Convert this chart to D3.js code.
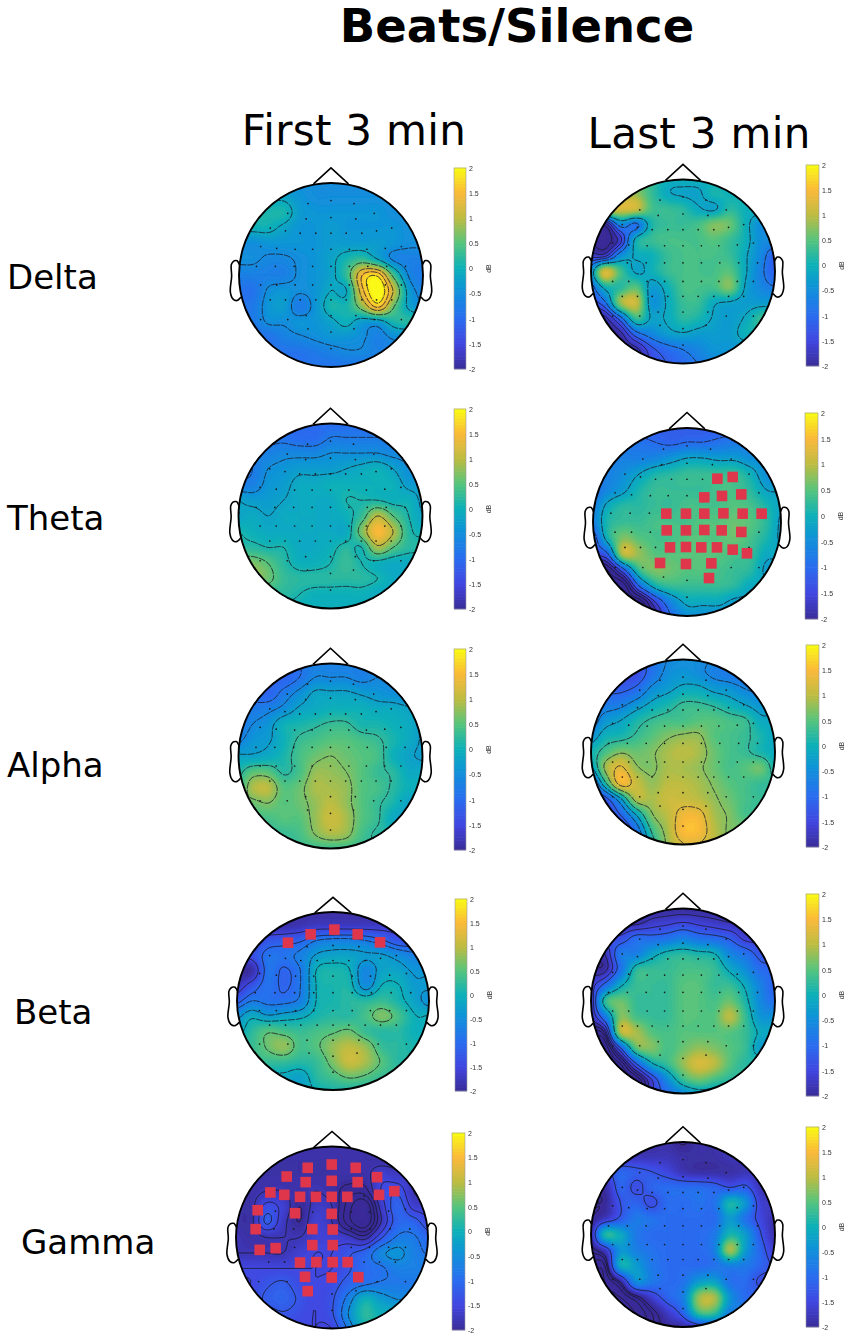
<!DOCTYPE html>
<html>
<head>
<meta charset="utf-8">
<script src="https://cdn.jsdelivr.net/npm/d3@7"></script>
<style>
html, body { margin: 0; padding: 0; background: #fff; }
svg { display: block; }
.tick text { font-family: "Liberation Sans", sans-serif; font-size: 7px; fill: #333; }
</style>
</head>
<body>
<svg id="chart" width="850" height="1339"></svg>
<script>
// values in tenths of a dB on a 13 x 13 grid over the head
var deltaFirst = [
  [-5,-5,-5,-5,-5,-5,-5,-5,-5,-5,-5,-5,-5],
  [-2,-2,-2,-2,-4,-5,-5,-5,-5,-5,-5,-5,-5],
  [1,1,1,1,-3,-4,-4,-4,-4,-4,-5,-5,-5],
  [0,0,0,-2,-4,-4,-3,-4,-4,-4,-4,-5,-5],
  [-5,-5,-4,-4,-4,-4,-3,-3,-3,-3,-4,-5,-5],
  [-5,-5,-6,-6,-5,-4,-2,1,3,-1,-6,-7,-7],
  [-7,-7,-7,-7,-5,-4,-2,3,15,17,4,-6,-8],
  [-9,-9,-5,-4,-5,-4,-1,-1,14,21,11,-3,-7],
  [-9,-8,-4,-3,-8,-4,1,1,8,16,6,-2,-5],
  [-8,-8,-5,-5,-4,-4,-2,0,-3,-3,1,2,2],
  [-9,-9,-9,-7,-6,-5,-4,-4,-5,-7,-5,-5,-5],
  [-9,-9,-9,-9,-9,-8,-7,-6,-6,-7,-7,-7,-7],
  [-9,-9,-9,-9,-9,-9,-9,-9,-9,-9,-9,-9,-9]
];
var deltaLast = [
  [5,5,5,5,3,0,0,0,-1,-2,-2,-2,-2],
  [9,9,9,8,3,-1,-2,-2,1,0,0,0,0],
  [12,12,12,11,4,3,2,-1,-2,2,0,0,0],
  [-20,-20,-6,-9,1,3,3,4,7,6,0,-5,-5],
  [-21,-23,-16,0,3,4,4,4,5,3,0,-5,-5],
  [-16,-16,-5,-1,0,3,4,4,4,3,-1,-6,-12],
  [-6,12,4,-2,0,3,4,4,4,5,-1,-7,-12],
  [-11,0,2,5,-3,0,4,4,4,7,-2,-6,-8],
  [-14,-9,8,11,-4,-1,3,3,-1,-2,-3,-3,-3],
  [-19,-19,-10,3,-2,-1,2,1,-2,-3,-1,3,3],
  [-20,-20,-19,-10,-6,-3,-2,-3,-3,-3,0,0,0],
  [-20,-20,-20,-19,-13,-10,-8,-6,-4,-4,-4,-4,-4],
  [-20,-20,-20,-19,-14,-12,-10,-8,-6,-5,-5,-5,-5]
];
var thetaFirst = [
  [-10,-10,-10,-10,-10,-10,-10,-10,-10,-10,-10,-10,-10],
  [-9,-9,-9,-9,-10,-10,-8,-8,-8,-8,-8,-8,-8],
  [-7,-7,-7,-6,-6,-6,-5,-5,-5,-5,-6,-6,-6],
  [-8,-8,-5,-4,-3,-3,-3,-2,-1,0,-2,-5,-5],
  [-7,-7,-4,-3,-1,-1,0,0,0,0,0,-3,-3],
  [-2,-3,-3,-2,-1,-1,-1,1,1,1,0,0,-3],
  [-2,-1,-2,-1,-1,-1,-1,0,3,10,5,1,-2],
  [1,0,-1,-1,-1,-1,-1,-1,7,15,10,2,0],
  [2,2,1,1,-1,-1,0,2,1,9,5,2,2],
  [7,7,5,2,0,0,1,3,1,0,-1,-1,-1],
  [8,8,6,3,2,2,2,2,2,1,-1,-1,-1],
  [2,2,2,2,1,0,0,0,0,-1,-1,-1,-1],
  [0,0,0,0,0,0,0,0,0,0,0,0,0]
];
var thetaLast = [
  [-12,-12,-12,-12,-12,-12,-12,-12,-12,-12,-12,-12,-12],
  [-9,-9,-9,-9,-10,-11,-10,-10,-9,-8,-8,-8,-8],
  [-7,-7,-7,-7,-6,-4,-2,-2,-3,-3,-5,-5,-5],
  [-7,-7,-5,-2,1,2,3,3,3,3,0,-5,-5],
  [-10,-6,-3,1,3,3,3,3,4,4,2,-2,-2],
  [-8,-1,2,2,3,3,4,4,4,5,4,1,-2],
  [-8,1,3,3,4,4,4,5,5,6,5,2,-3],
  [-14,0,7,5,4,4,5,5,5,6,4,1,-3],
  [-14,-11,10,8,5,5,5,5,5,4,3,-1,-1],
  [-24,-24,-12,3,7,6,5,5,4,3,2,-3,-3],
  [-26,-26,-26,-10,0,3,3,3,3,2,-1,-1,-1],
  [-26,-26,-26,-26,-15,-6,-1,-1,-1,-3,-3,-3,-3],
  [-26,-26,-26,-26,-20,-10,-5,-5,-5,-5,-5,-5,-5]
];
var alphaFirst = [
  [-9,-9,-9,-9,-9,-7,-7,-7,-7,-7,-7,-7,-7],
  [-10,-10,-10,-11,-9,-6,-6,-6,-7,-6,-6,-6,-6],
  [-10,-10,-11,-8,-5,-2,-2,-2,-3,-4,-5,-6,-6],
  [-8,-8,-7,-5,-2,-1,0,0,0,-1,-1,-2,-2],
  [-9,-6,-4,0,1,2,3,3,1,1,0,-1,-3],
  [-7,-4,-3,0,3,4,5,5,4,3,1,-1,-3],
  [-2,-2,-1,1,4,6,7,6,5,4,0,-2,-3],
  [1,5,5,2,4,8,8,7,5,3,2,-1,-1],
  [2,9,10,5,6,9,9,8,5,4,2,0,0],
  [6,6,7,5,6,8,10,8,5,3,1,-2,-2],
  [4,4,4,5,5,8,11,9,5,3,-1,-2,-2],
  [3,3,3,3,4,7,9,8,4,2,2,2,2],
  [3,3,3,3,3,3,3,3,3,3,3,3,3]
];
var alphaLast = [
  [-12,-12,-12,-12,-9,-6,-5,-5,-6,-6,-6,-6,-6],
  [-14,-14,-14,-14,-9,-5,-4,-5,-7,-8,-9,-9,-9],
  [-12,-12,-12,-10,-5,-3,-1,-1,-3,-4,-6,-7,-7],
  [-8,-8,-7,-4,-1,1,3,3,2,0,-2,-4,-4],
  [-9,-4,-2,1,3,4,4,5,5,4,3,-1,-1],
  [-5,0,1,3,5,7,8,8,5,4,3,1,-2],
  [0,4,7,6,7,9,10,9,6,4,3,1,-1],
  [-4,8,13,8,7,9,9,8,6,4,5,6,0],
  [-14,1,14,11,8,10,10,9,7,5,4,3,3],
  [-16,-13,-3,9,9,11,11,10,8,6,4,3,3],
  [-16,-16,-11,-2,7,10,14,14,9,7,4,4,4],
  [-16,-16,-16,-9,3,9,15,15,10,7,7,7,7],
  [-16,-16,-16,-12,0,8,12,12,10,7,7,7,7]
];
var betaFirst = [
  [-19,-19,-19,-19,-19,-19,-19,-19,-19,-19,-19,-19,-19],
  [-19,-19,-19,-19,-18,-17,-17,-17,-17,-17,-17,-17,-17],
  [-17,-17,-13,-12,-11,-8,-7,-7,-8,-10,-13,-13,-13],
  [-14,-14,-9,-9,-7,-3,-2,-2,-3,-3,-5,-7,-7],
  [-19,-19,-9,-11,-8,0,1,0,-6,-2,-2,-4,-4],
  [-18,-13,-9,-11,-8,0,1,1,-5,0,0,-3,-3],
  [-12,-8,-9,-9,-7,0,1,2,2,3,1,-2,-5],
  [-5,-1,-3,-2,-1,1,2,2,4,7,4,0,0],
  [-2,2,5,4,3,4,5,6,3,2,2,0,0],
  [3,3,6,8,4,5,8,10,8,3,2,1,1],
  [3,3,3,3,2,3,7,11,9,5,2,2,2],
  [-1,-1,-1,-1,-2,2,4,6,5,3,3,3,3],
  [-2,-2,-2,-2,-2,0,1,1,1,1,1,1,1]
];
var betaLast = [
  [-20,-20,-20,-20,-20,-20,-20,-20,-20,-20,-20,-20,-20],
  [-19,-19,-19,-19,-17,-16,-15,-16,-17,-18,-18,-18,-18],
  [-14,-14,-14,-10,-10,-9,-7,-9,-10,-12,-16,-16,-16],
  [-18,-18,-8,-7,-2,1,2,1,0,-6,-9,-13,-13],
  [-19,-19,-9,2,3,3,4,4,3,-1,-5,-10,-10],
  [-17,-10,-1,3,3,3,5,5,3,3,-1,-7,-12],
  [-20,2,6,3,3,3,5,5,4,6,1,-6,-10],
  [-19,-8,7,4,3,3,5,5,5,10,3,-4,-4],
  [-22,-20,9,9,5,4,5,5,5,5,3,-1,-1],
  [-26,-26,-12,5,7,4,6,8,7,5,3,-3,-3],
  [-26,-26,-24,-12,-1,3,8,12,10,5,2,2,2],
  [-26,-26,-26,-24,-15,-5,3,6,4,2,2,2,2],
  [-26,-26,-26,-24,-15,-10,-6,-3,-3,-3,-3,-3,-3]
];
var gammaFirst = [
  [-19,-19,-19,-19,-19,-19,-19,-19,-19,-19,-19,-19,-19],
  [-19,-19,-19,-19,-19,-19,-19,-19,-19,-19,-19,-19,-19],
  [-19,-19,-19,-19,-19,-19,-19,-19,-19,-16,-17,-17,-17],
  [-19,-19,-18,-18,-19,-18,-19,-21,-21,-15,-13,-18,-18],
  [-19,-19,-14,-16,-20,-17,-18,-23,-26,-17,-11,-16,-16],
  [-19,-19,-12,-17,-20,-16,-18,-23,-26,-18,-11,-11,-15],
  [-18,-19,-18,-18,-18,-16,-16,-17,-19,-13,-8,-8,-11],
  [-18,-18,-18,-18,-16,-15,-15,-13,-11,-6,-4,-7,-9],
  [-15,-15,-15,-15,-15,-15,-15,-13,-10,-9,-7,-7,-7],
  [-15,-15,-13,-12,-14,-15,-14,-11,-9,-8,-8,-8,-8],
  [-14,-14,-12,-11,-13,-15,-13,-7,0,-3,-5,-5,-5],
  [-14,-14,-14,-13,-14,-15,-13,-5,2,0,0,0,0],
  [-15,-15,-15,-15,-15,-15,-15,-8,0,0,0,0,0]
];
var gammaLast = [
  [-19,-19,-19,-19,-19,-19,-21,-19,-19,-19,-19,-19,-19],
  [-18,-18,-18,-18,-18,-18,-19,-19,-19,-18,-18,-18,-18],
  [-15,-15,-11,-12,-13,-15,-18,-19,-19,-19,-18,-18,-18],
  [-19,-19,-11,-14,-11,-10,-10,-10,-11,-13,-12,-18,-18],
  [-20,-20,-13,-11,-14,-10,-10,-9,-9,1,-4,-16,-16],
  [-21,-17,-12,-8,-9,-10,-10,-10,-10,-3,-9,-15,-19],
  [-21,1,-1,-8,-10,-10,-10,-10,-8,1,-3,-13,-19],
  [-22,-17,-4,-7,-9,-10,-10,-10,-7,9,-3,-11,-17],
  [-24,-24,-1,-3,-8,-10,-10,-10,-9,-7,-8,-11,-14],
  [-26,-26,-20,-5,-8,-10,-9,-3,-2,-9,-10,-14,-14],
  [-26,-26,-26,-22,-16,-11,-7,8,9,-4,-10,-10,-10],
  [-26,-26,-26,-26,-22,-17,-11,3,3,-7,-7,-7,-7],
  [-26,-26,-26,-26,-22,-20,-20,-18,-14,-12,-12,-12,-12]
];

var contourLevels = {
  deltaFirst: [-1.0, -0.55, -0.1, 0.55, 1.15, 1.5, 1.8],
  deltaLast: [-2.1, -1.8, -1.5, -1.2, -0.8, -0.15],
  thetaFirst: [-0.8, -0.5, -0.2, 0.1, 0.5, 1.0],
  thetaLast: [-2.4, -2.1, -1.8, -1.5, -1.0, -0.2],
  alphaFirst: [-0.9, -0.6, -0.25, 0.25, 0.7],
  alphaLast: [-1.6, -1.1, -0.6, -0.2, 0.25, 0.75, 1.25],
  betaFirst: [-1.5, -1.05, -0.8, -0.35, -0.02, 0.55],
  betaLast: [-2.4, -2.2, -2, -1.8, -1.5, -1.15, -0.02],
  gammaFirst: [-2.4, -2.2, -2, -1.8, -1.5, -1.25, -0.85, -0.5],
  gammaLast: [-2.6, -2.4, -2.2, -2.05, -1.3]
};

// electrode positions in head units (nose up, radius 1)
var chanX = [0, -.25, .25, -.47, .47, 0, -.27, .27, -.66, .66, -.495, .495, -.335, -.165, 0, .165, .335,
  -.765, .765, -.59, .59, -.39, -.2, 0, .2, .39,
  -.81, -.605, -.4, -.2, 0, .2, .4, .605, .81,
  -.765, -.59, -.39, -.2, 0, .2, .39, .59, .765,
  -.66, -.495, -.335, -.165, 0, .165, .335, .495, .66,
  -.27, 0, .27, -.47, .47, -.765, .765, -.25, .25, 0, 0];
var chanY = [-.81, -.776, -.776, -.67, -.67, -.625, -.61, -.61, -.51, -.51, -.48, -.48, -.455, -.455, -.455, -.455, -.455,
  -.31, -.31, -.29, -.29, -.28, -.28, -.28, -.28, -.28,
  -.094, -.094, -.094, -.094, -.094, -.094, -.094, -.094, -.094,
  .108, .108, .108, .108, .108, .108, .108, .108, .108,
  .27, .27, .27, .27, .27, .27, .27, .27, .27,
  .44, .44, .44, .484, .484, .484, .484, .585, .585, .62, .80];

var markersThetaLast = [[.323,-.461],[.486,-.479],[.184,-.262],[.372,-.277],[.578,-.294],[-.22,-.089],[-.011,-.089],[.184,-.089],[.387,-.092],[.592,-.089],[.794,-.089],
  [-.216,.089],[-.011,.089],[.184,.085],[.369,.089],[.578,.106],[-.181,.27],[-.011,.266],[.152,.27],[.319,.27],[.486,.294],[.638,.333],[-.287,.436],[-.011,.447],[.259,.44],[.234,.596]];
var markersBetaFirst = [[-.469,-.655],[-.233,-.749],[.014,-.802],[.257,-.749],[.49,-.659]];
var markersGammaFirst = [[-.253,-.766],[-.003,-.802],[.247,-.766],[-.472,-.67],[.469,-.663],[-.274,-.608],[-.003,-.623],[.267,-.608],
  [-.642,-.495],[-.497,-.469],[-.333,-.447],[-.167,-.447],[-.003,-.447],[.16,-.447],[.49,-.469],[.649,-.509],
  [-.774,-.3],[-.385,-.267],[-.003,-.26],[-.795,-.092],[-.205,-.092],[.007,-.088],[-.753,.136],[-.587,.117],[-.205,.084],[.007,.084],
  [-.333,.275],[-.163,.271],[.007,.271],[.163,.271],[-.281,.432],[-.003,.44],[.274,.436],[-.253,.59]];

var earX = [.994, 1.02, 1.036, 1.06, 1.084, 1.08, 1.094, 1.064, 1.02, .978];
var earY = [-.111, -.155, -.157, -.149, -.111, .011, .186, .263, .277, .24];
var noseX = [-.19, 0, .19];
var noseY = [-.99, -1.165, -.99];

var colorTicks = [2, 1.5, 1, 0.5, 0, -0.5, -1, -1.5, -2];
var parulaStops = ["#3a2c98", "#4146e0", "#2a6cf0", "#128edc", "#0cb0ba", "#55c47e", "#bdbd42", "#fbb93a", "#f9fb15"];

var rowLabels = ["Delta", "Theta", "Alpha", "Beta", "Gamma"];
var colLabels = ["First 3 min", "Last 3 min"];

var heads = [
  { key: "deltaFirst", values: deltaFirst, cx: 331, cy: 275, rx: 92, ry: 92, bar: [454, 466, 168, 369] },
  { key: "deltaLast", values: deltaLast, cx: 683, cy: 271.5, rx: 92, ry: 92, bar: [806, 819, 165, 366] },
  { key: "thetaFirst", values: thetaFirst, cx: 330.5, cy: 516, rx: 92, ry: 92.5, bar: [454, 466, 409, 609] },
  { key: "thetaLast", values: thetaLast, markers: markersThetaLast, cx: 687, cy: 522, rx: 94, ry: 94, bar: [805, 818, 413, 619] },
  { key: "alphaFirst", values: alphaFirst, cx: 330.5, cy: 756, rx: 92, ry: 92.5, bar: [454, 466, 649, 850] },
  { key: "alphaLast", values: alphaLast, cx: 683, cy: 752, rx: 92, ry: 92.5, bar: [806, 819, 645, 847] },
  { key: "betaFirst", values: betaFirst, markers: markersBetaFirst, cx: 333, cy: 1001, rx: 96, ry: 89, bar: [455, 467, 899, 1091] },
  { key: "betaLast", values: betaLast, cx: 683, cy: 1001, rx: 92, ry: 92.5, bar: [806, 819, 894, 1096] },
  { key: "gammaFirst", values: gammaFirst, markers: markersGammaFirst, cx: 332, cy: 1237.5, rx: 96, ry: 91, bar: [452, 465, 1133, 1330] },
  { key: "gammaLast", values: gammaLast, cx: 683, cy: 1234.5, rx: 92, ry: 92.5, bar: [806, 819, 1127, 1327] }
];

var GRID_SPAN = 1.02;
var UPSAMPLE = 8;

var colorScale = d3.scaleLinear()
  .domain(d3.range(parulaStops.length).map(function(i) { return -2 + i * 0.5; }))
  .range(parulaStops)
  .clamp(true);

var svg = d3.select("#chart");
var defs = svg.append("defs");
defs.append("filter").attr("id", "soft")
  .attr("x", "-5%").attr("y", "-5%").attr("width", "110%").attr("height", "110%")
  .append("feGaussianBlur").attr("stdDeviation", 0.45);

function catmull(a, b, c, d, t) {
  return 0.5 * (2 * b + (c - a) * t + (2 * a - 5 * b + 4 * c - d) * t * t + (3 * b - a - 3 * c + d) * t * t * t);
}

// smooth the coarse grid so that the contours come out round
function upsample(rows) {
  var n = rows.length;
  var m = (n - 1) * UPSAMPLE + 1;
  var out = new Float64Array(m * m);
  function at(r, c) {
    return rows[Math.max(0, Math.min(n - 1, r))][Math.max(0, Math.min(n - 1, c))] / 10;
  }
  for (var j = 0; j < m; j++) {
    var r0 = Math.min(n - 2, Math.floor(j / UPSAMPLE));
    var ty = j / UPSAMPLE - r0;
    for (var i = 0; i < m; i++) {
      var c0 = Math.min(n - 2, Math.floor(i / UPSAMPLE));
      var tx = i / UPSAMPLE - c0;
      var col = [];
      for (var k = -1; k <= 2; k++) {
        col.push(catmull(at(r0 + k, c0 - 1), at(r0 + k, c0), at(r0 + k, c0 + 1), at(r0 + k, c0 + 2), tx));
      }
      out[j * m + i] = catmull(col[0], col[1], col[2], col[3], ty);
    }
  }
  return { width: m, values: out };
}

function drawHead(h, idx) {
  var x = d3.scaleLinear().domain([-1, 1]).range([h.cx - h.rx, h.cx + h.rx]);
  var y = d3.scaleLinear().domain([-1, 1]).range([h.cy - h.ry, h.cy + h.ry]);
  var line = d3.line().x(function(d) { return x(d[0]); }).y(function(d) { return y(d[1]); });
  var grid = upsample(h.values);
  var gx = d3.scaleLinear().domain([0.5, grid.width - 0.5]).range([x(-GRID_SPAN), x(GRID_SPAN)]);
  var gy = d3.scaleLinear().domain([0.5, grid.width - 0.5]).range([y(-GRID_SPAN), y(GRID_SPAN)]);
  var path = d3.geoPath(d3.geoTransform({
    point: function(px, py) { this.stream.point(gx(px), gy(py)); }
  }));

  var clipId = "head-clip-" + idx;
  defs.append("clipPath").attr("id", clipId)
    .append("ellipse").attr("cx", h.cx).attr("cy", h.cy).attr("rx", h.rx).attr("ry", h.ry);

  var g = svg.append("g").attr("class", "head").attr("filter", "url(#soft)");
  var map = g.append("g").attr("clip-path", "url(#" + clipId + ")");

  var bands = d3.range(-4, 2, 0.05);
  var contours = d3.contours().size([grid.width, grid.width]).smooth(true);
  map.selectAll("path.band")
    .data(contours.thresholds(bands)(grid.values))
    .join("path")
    .attr("class", "band")
    .attr("d", path)
    .attr("fill", function(d) { return colorScale(d.value + 0.025); })
    .attr("stroke", function(d) { return colorScale(d.value + 0.025); })
    .attr("stroke-width", 0.2);

  map.selectAll("path.level")
    .data(contours.thresholds(contourLevels[h.key])(grid.values))
    .join("path")
    .attr("class", "level")
    .attr("d", path)
    .attr("fill", "none")
    .attr("stroke", "#1c1c2a")
    .attr("stroke-width", 0.8)
    .attr("stroke-dasharray", function(d) { return d.value < -1 ? null : "7 1"; });

  g.selectAll("circle.chan")
    .data(d3.zip(chanX, chanY))
    .join("circle")
    .attr("class", "chan")
    .attr("cx", function(d) { return x(d[0]); })
    .attr("cy", function(d) { return y(d[1]); })
    .attr("r", 0.85)
    .attr("fill", "#1a1a1a");

  g.append("ellipse")
    .attr("cx", h.cx).attr("cy", h.cy).attr("rx", h.rx).attr("ry", h.ry)
    .attr("fill", "none").attr("stroke", "#000").attr("stroke-width", 1.9);

  var outline = g.append("g").attr("fill", "none").attr("stroke", "#000").attr("stroke-width", 1.6);
  outline.append("path").attr("d", line(d3.zip(noseX, noseY)));
  var ear = line.curve(d3.curveCatmullRom);
  outline.append("path").attr("d", ear(d3.zip(earX, earY)));
  outline.append("path").attr("d", ear(d3.zip(earX.map(function(v) { return -v; }), earY)));
  line.curve(d3.curveLinear);

  // significant electrodes
  if (h.markers) {
    svg.append("g").selectAll("rect")
      .data(h.markers)
      .join("rect")
      .attr("x", function(d) { return x(d[0]) - 5.3; })
      .attr("y", function(d) { return y(d[1]) - 5.3; })
      .attr("width", 10.6)
      .attr("height", 10.6)
      .attr("fill", "#e0364c");
  }

  // colorbar
  var b = h.bar;
  var barScale = d3.scaleLinear().domain([-2, 2]).range([b[3], b[2]]);
  var bar = svg.append("g").attr("filter", "url(#soft)");
  var steps = d3.range(-2, 2, 0.0625);
  bar.selectAll("rect")
    .data(steps)
    .join("rect")
    .attr("x", b[0])
    .attr("width", b[1] - b[0])
    .attr("y", function(d) { return barScale(d + 0.0625) - 0.3; })
    .attr("height", barScale(0) - barScale(0.0625) + 0.6)
    .attr("fill", function(d) { return colorScale(d + 0.03); });
  bar.append("rect")
    .attr("x", b[0]).attr("y", b[2])
    .attr("width", b[1] - b[0]).attr("height", b[3] - b[2])
    .attr("fill", "none").attr("stroke", "#999").attr("stroke-width", 0.6);
  var axis = d3.axisRight(barScale).tickValues(colorTicks).tickFormat(String).tickSize(0).tickPadding(3);
  var ag = bar.append("g").attr("transform", "translate(" + b[1] + ",0)").call(axis);
  ag.select(".domain").remove();
  bar.append("text")
    .attr("transform", "translate(" + (b[1] + 25) + "," + ((b[2] + b[3]) / 2) + ") rotate(-90)")
    .attr("text-anchor", "middle")
    .attr("font-family", "Liberation Sans, sans-serif")
    .attr("font-size", 7)
    .attr("fill", "#333")
    .text("dB");
}

heads.forEach(drawHead);

svg.append("text")
  .attr("x", 517).attr("y", 42)
  .attr("text-anchor", "middle")
  .attr("font-family", "DejaVu Sans, sans-serif")
  .attr("font-weight", "bold")
  .attr("font-size", 46.5)
  .attr("fill", "#000")
  .text("Beats/Silence");

var colX = d3.scalePoint().domain(colLabels).range([354, 699]);
svg.selectAll("text.col")
  .data(colLabels)
  .join("text")
  .attr("class", "col")
  .attr("x", function(d) { return colX(d); })
  .attr("y", function(d, i) { return i === 0 ? 145 : 148; })
  .attr("text-anchor", "middle")
  .attr("font-family", "DejaVu Sans, sans-serif")
  .attr("font-size", 42)
  .attr("letter-spacing", 0.3)
  .attr("fill", "#000")
  .text(function(d) { return d; });

var labelX = [7, 7, 7, 14, 21];
var labelY = [289, 530, 777, 1024, 1254];
svg.selectAll("text.row")
  .data(rowLabels)
  .join("text")
  .attr("class", "row")
  .attr("x", function(d, i) { return labelX[i]; })
  .attr("y", function(d, i) { return labelY[i]; })
  .attr("font-family", "DejaVu Sans, sans-serif")
  .attr("font-size", 34)
  .attr("fill", "#000")
  .text(function(d) { return d; });
</script>
</body>
</html>
